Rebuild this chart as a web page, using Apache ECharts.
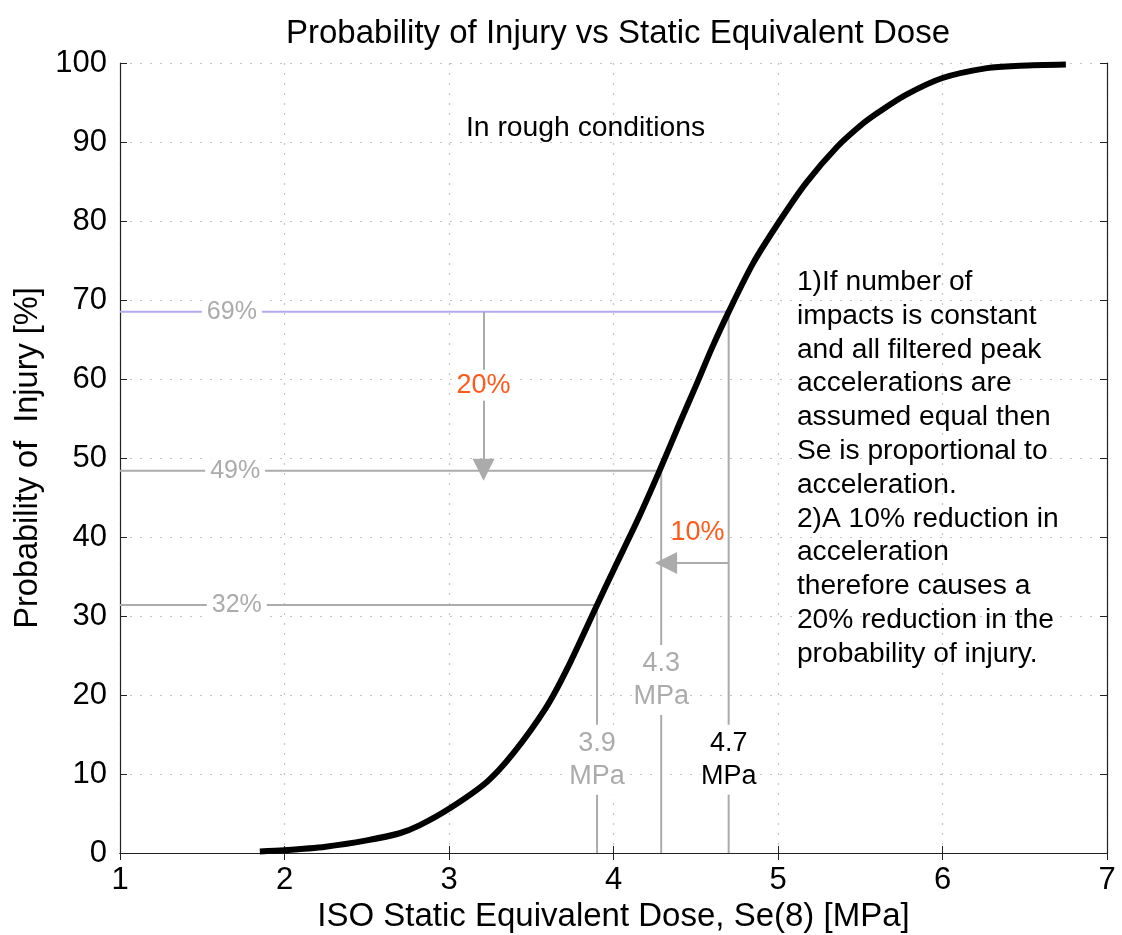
<!DOCTYPE html>
<html>
<head>
<meta charset="utf-8">
<script src="https://cdn.jsdelivr.net/npm/echarts@6/dist/echarts.min.js"></script>
<style>html,body{margin:0;padding:0;background:#fff;}#c{width:1122px;height:935px;}</style>
</head>
<body>
<div id="c"></div>
<script>
// ---- data ----
const doseX = [1.85, 2.0, 2.25, 2.5, 2.7, 2.82, 3.0, 3.23, 3.39, 3.59, 3.72, 3.9, 4.0, 4.15, 4.28, 4.4, 4.5, 4.6, 4.7, 4.85, 5.01, 5.17, 5.36, 5.52, 5.62, 5.78, 6.0, 6.27, 6.47, 6.75];
const probY = [0.2, 0.35, 0.8, 1.6, 2.5, 3.5, 5.6, 9.0, 12.6, 18.4, 23.4, 31.4, 35.8, 42.3, 48.4, 54.3, 59.1, 64.0, 68.5, 74.7, 80.0, 84.8, 89.4, 92.4, 93.9, 96.0, 98.1, 99.35, 99.65, 99.8];

const markDose = [3.9, 4.29, 4.7];
const markProb = [31.4, 48.4, 68.5];

const pctLabels = ['32%', '49%', '69%'];
const pctLabelX = [1.71, 1.70, 1.68];

const mpaLabels = ['3.9\nMPa', '4.3\nMPa', '4.7\nMPa'];
const mpaLabelY = [11.8, 21.9, 11.8];

const arrowDown = [[3.21, 68.5], [3.21, 48.5]];
const arrowLeft = [[4.7, 36.7], [4.32, 36.7]];
const changeLabels = ['20%', '10%'];
const changeLabelPos = [[3.21, 59.2], [4.51, 40.6]];

const noteTitle = 'In rough conditions';
const notePos = [3.83, 91.8];
const noteText = '1)If number of\nimpacts is constant\nand all filtered peak\naccelerations are\nassumed equal then\nSe is proportional to\nacceleration.\n2)A 10% reduction in\nacceleration\ntherefore causes a\n20% reduction in the\nprobability of injury.';
const noteTextPos = [5.115, 74.4];

// ---- chart ----
const FONT = 'Liberation Sans';
const GRAY = '#ababab';
const ORANGE = '#ff5a1a';
const chart = echarts.init(document.getElementById('c'));

const series = [];
markDose.forEach((d, i) => {
  series.push({
    type: 'line', symbol: 'none', silent: true, z: 2,
    data: [[1, markProb[i]], [d, markProb[i]]],
    lineStyle: { color: i === 2 ? '#b4a8f2' : GRAY, width: 2 }
  });
  series.push({
    type: 'line', symbol: 'none', silent: true, z: 2,
    data: [[d, 0], [d, markProb[i]]],
    lineStyle: { color: GRAY, width: 2 }
  });
});
series.push({
  type: 'lines', coordinateSystem: 'cartesian2d', silent: true, z: 3,
  symbol: ['none', 'triangle'], symbolSize: [20, 22],
  lineStyle: { color: GRAY, width: 2, opacity: 1, curveness: 0 },
  data: [{ coords: arrowDown }, { coords: arrowLeft }]
});
series.push({
  type: 'line', symbol: 'none', smooth: 0.3, silent: true, z: 5,
  data: doseX.map((x, i) => [x, probY[i]]),
  lineStyle: { color: '#000', width: 6 }
});
const txt = (pos, text, style) => ({
  value: pos,
  label: Object.assign({
    show: true, formatter: text, fontFamily: FONT, position: 'inside',
    textBorderWidth: 0, textBorderColor: 'transparent', textShadowBlur: 0
  }, style)
});
const labelData = [];
pctLabels.forEach((t, i) => labelData.push(txt([pctLabelX[i], markProb[i]], t,
  { color: GRAY, fontSize: 25, backgroundColor: '#fff', padding: [0, 5] })));
mpaLabels.forEach((t, i) => labelData.push(txt([markDose[i], mpaLabelY[i]], t,
  { color: i === 2 ? '#000' : GRAY, fontSize: 27, lineHeight: 33, backgroundColor: '#fff', padding: [2, 0] })));
changeLabels.forEach((t, i) => labelData.push(txt(changeLabelPos[i], t,
  { color: ORANGE, fontSize: 27, backgroundColor: i === 0 ? '#fff' : 'transparent', padding: [2, 2] })));
labelData.push(txt(notePos, noteTitle, { color: '#000', fontSize: 28.3 }));
labelData.push(txt(noteTextPos, noteText, { color: '#000', fontSize: 28.2, lineHeight: 33.8, align: 'left', verticalAlign: 'top' }));
series.push({
  type: 'scatter', symbolSize: 0, silent: true, z: 10,
  itemStyle: { opacity: 1 },
  data: labelData
});

const axisLineStyle = { show: true, lineStyle: { color: '#222', width: 1.2 } };
const tickStyle = { show: true, inside: true, length: 7, lineStyle: { color: '#222' } };
const gridDots = { show: true, lineStyle: { color: '#c4c4c4', type: [2, 8], width: 1.2 } };
chart.setOption({
  animation: false,
  title: {
    text: 'Probability of Injury vs Static Equivalent Dose',
    left: 613, textAlign: 'center', top: 12,
    textStyle: { fontFamily: FONT, fontSize: 33, fontWeight: 'normal', color: '#000' }
  },
  grid: { left: 120, right: 15, top: 63, bottom: 82, containLabel: false, outerBoundsMode: 'none' },
  xAxis: [{
    type: 'value', min: 1, max: 7, interval: 1, position: 'bottom',
    name: 'ISO Static Equivalent Dose, Se(8) [MPa]', nameLocation: 'middle', nameGap: 47,
    nameTextStyle: { fontFamily: FONT, fontSize: 33, color: '#000' },
    axisLine: axisLineStyle, axisTick: tickStyle,
    axisLabel: { fontFamily: FONT, fontSize: 31, color: '#000', margin: 12 },
    splitLine: gridDots
  }, {
    type: 'value', min: 1, max: 7, interval: 1, position: 'top',
    axisLine: axisLineStyle, axisTick: tickStyle,
    axisLabel: { show: false }, splitLine: { show: false }
  }],
  yAxis: [{
    type: 'value', min: 0, max: 100, interval: 10, position: 'left',
    name: 'Probability of  Injury [%]', nameLocation: 'middle', nameGap: 69,
    nameTextStyle: { fontFamily: FONT, fontSize: 32.5, color: '#000' },
    axisLine: axisLineStyle, axisTick: tickStyle,
    axisLabel: { fontFamily: FONT, fontSize: 31, color: '#000', margin: 13 },
    splitLine: gridDots
  }, {
    type: 'value', min: 0, max: 100, interval: 10, position: 'right',
    axisLine: axisLineStyle, axisTick: tickStyle,
    axisLabel: { show: false }, splitLine: { show: false }
  }],
  series: series
});
</script>
</body>
</html>
